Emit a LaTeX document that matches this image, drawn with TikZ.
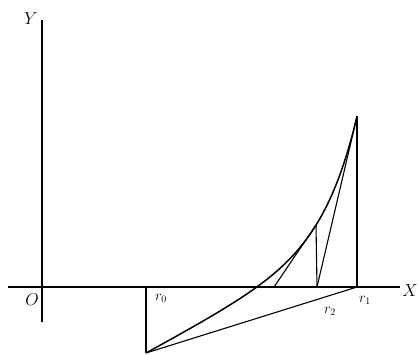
\documentclass[tikz,border=0pt]{standalone}
\begin{document}
\begin{tikzpicture}[x=1pt,y=-1pt,
  ln/.style={line width=1.1pt, black},
  thk/.style={line width=1.5pt, black},
  lbl/.style={inner sep=0pt, font=\fontsize{17}{17}\selectfont},
  slbl/.style={inner sep=0pt, font=\fontsize{14}{14}\selectfont}]
\useasboundingbox (0,0) rectangle (418,355);
% coordinates
\coordinate (xl) at (8,287);
\coordinate (xr) at (400,287);
\coordinate (yt) at (42,20);
\coordinate (yb) at (42,322);
\coordinate (p0) at (146,353);
\coordinate (a0) at (146,287);
\coordinate (p1) at (357,116.3);
\coordinate (a1) at (357,287);
\coordinate (a2) at (317,287);
\coordinate (p2) at (316,225);
\coordinate (a3) at (274,287);
% axes
\draw[ln] (xl) -- (xr);
\draw[thk] (yt) -- (yb);
% curve
\draw[thk] plot[domain=0:211, samples=80, smooth]
  ({146+\x},{353-(0.218*(exp(0.03*\x)-1)+0.543*\x)});
% verticals
\draw[thk] (a0) -- (p0);
\draw[ln] (a1) -- (p1);
\draw[ln] (a2) -- (p2);
% tangents and chord
\draw[ln] (p1) -- (a2);
\draw[ln] (p2) -- (a3);
\draw[ln] (p0) -- (a1);
% labels
\node[lbl] (Y) at (31,19) {$Y$};
\node[lbl] (X) at (410,291) {$X$};
\node[lbl] (O) at (32,300) {$O$};
\node[slbl] (r0) at (161,298) {$r_0$};
\node[slbl] (r1) at (365,300) {$r_1$};
\node[slbl] (r2) at (330,311) {$r_2$};
\end{tikzpicture}
\end{document}
